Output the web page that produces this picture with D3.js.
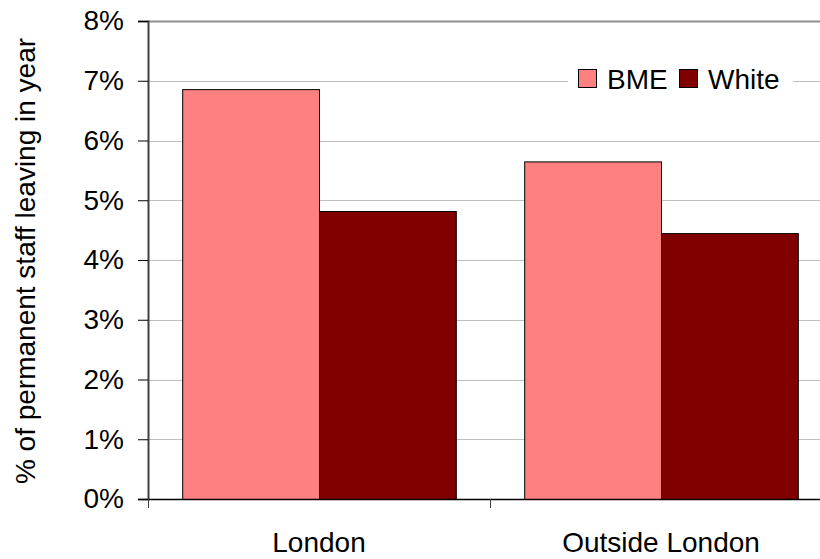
<!DOCTYPE html>
<html>
<head>
<meta charset="utf-8">
<script src="https://cdn.jsdelivr.net/npm/d3@7"></script>
<style>
  body { margin: 0; background: #fff; }
  text { font-family: "Liberation Sans", Arial, sans-serif; fill: #000; }
</style>
</head>
<body>
<div id="chart"></div>
<script>
var categories = ["London", "Outside London"]
var series = ["BME", "White"]
var bmeValues = [0.0686, 0.0565]
var whiteValues = [0.0482, 0.0445]
var yTicks = [0, 0.01, 0.02, 0.03, 0.04, 0.05, 0.06, 0.07, 0.08]
var colors = { "BME": "#ff8080", "White": "#800000" }

var width = 820, height = 559
var plot = { left: 148, top: 21, right: 832, bottom: 499 }
var fontSize = 28

var svg = d3.select("#chart").append("svg")
  .attr("width", width)
  .attr("height", height)

var x0 = d3.scaleBand()
  .domain(categories)
  .range([plot.left, plot.right])
  .paddingInner(0)
  .paddingOuter(0)

var x1 = d3.scaleBand()
  .domain(series)
  .range([0, x0.bandwidth()])
  .paddingInner(0)
  .paddingOuter(0.25)

var y = d3.scaleLinear()
  .domain([0, 0.08])
  .range([plot.bottom, plot.top])

// gridlines
svg.append("g")
  .attr("class", "grid")
  .selectAll("line")
  .data(yTicks.slice(1, -1))
  .enter().append("line")
    .attr("x1", plot.left)
    .attr("x2", plot.right)
    .attr("y1", function (d) { return Math.round(y(d)) + 0.5 })
    .attr("y2", function (d) { return Math.round(y(d)) + 0.5 })
    .attr("stroke", "#c0c0c0")
    .attr("stroke-width", 1)

// plot area border (only the top edge is inside the picture)
svg.append("line")
  .attr("x1", plot.left)
  .attr("x2", plot.right)
  .attr("y1", plot.top + 0.5)
  .attr("y2", plot.top + 0.5)
  .attr("stroke", "#909090")
  .attr("stroke-width", 2)

// bars
var rows = categories.map(function (c, i) {
  return { category: c, values: [
    { key: "BME", value: bmeValues[i] },
    { key: "White", value: whiteValues[i] }
  ] }
})

var groups = svg.append("g")
  .attr("class", "bars")
  .selectAll("g")
  .data(rows)
  .enter().append("g")
    .attr("transform", function (d) { return "translate(" + x0(d.category) + ",0)" })

groups.selectAll("rect")
  .data(function (d) { return d.values })
  .enter().append("rect")
    .attr("x", function (d) { return x1(d.key) + 0.5 })
    .attr("y", function (d) { return y(d.value) + 0.5 })
    .attr("width", x1.bandwidth())
    .attr("height", function (d) { return plot.bottom - y(d.value) })
    .attr("fill", function (d) { return colors[d.key] })
    .attr("stroke", "#000")
    .attr("stroke-width", 1)

// y axis
var yAxis = svg.append("g")
  .attr("transform", "translate(" + plot.left + ",0)")
  .call(d3.axisLeft(y).tickValues(yTicks).tickFormat(d3.format(".0%")).tickSize(10).tickPadding(14))

yAxis.select(".domain").attr("stroke", "#404040").attr("stroke-width", 2)
yAxis.selectAll(".tick line").attr("stroke", "#000")
yAxis.selectAll(".tick text")
  .style("font-size", fontSize + "px")
  .style("font-family", "'Liberation Sans', Arial, sans-serif")

// x axis
var xAxis = svg.append("g")
  .attr("transform", "translate(0," + plot.bottom + ")")

xAxis.append("line")
  .attr("x1", plot.left)
  .attr("x2", plot.right)
  .attr("y1", 0.5)
  .attr("y2", 0.5)
  .attr("stroke", "#000")
  .attr("stroke-width", 1.5)

var xTickPos = categories.map(function (c) { return x0(c) }).concat([plot.right])
xAxis.selectAll("line.tick")
  .data(xTickPos)
  .enter().append("line")
    .attr("class", "tick")
    .attr("x1", function (d) { return d + 0.5 })
    .attr("x2", function (d) { return d + 0.5 })
    .attr("y1", 0)
    .attr("y2", 9)
    .attr("stroke", "#404040")

xAxis.selectAll("text")
  .data(categories)
  .enter().append("text")
    .attr("x", function (d) { return x0(d) + x0.bandwidth() / 2 })
    .attr("y", 53)
    .attr("text-anchor", "middle")
    .style("font-size", fontSize + "px")
    .text(function (d) { return d })

// y title
svg.append("text")
  .attr("transform", "translate(35,261) rotate(-90)")
  .attr("text-anchor", "middle")
  .style("font-size", fontSize + "px")
  .text("% of permanent staff leaving in year")

// legend
var legend = svg.append("g").attr("transform", "translate(568,62)")
legend.append("rect")
  .attr("width", 225)
  .attr("height", 36)
  .attr("fill", "#fff")

var legendX = [10, 111]
var items = legend.selectAll("g.item")
  .data(series)
  .enter().append("g")
    .attr("class", "item")
    .attr("transform", function (d, i) { return "translate(" + legendX[i] + ",0)" })

items.append("rect")
  .attr("x", 0.5)
  .attr("y", 7.5)
  .attr("width", 18)
  .attr("height", 18)
  .attr("fill", function (d) { return colors[d] })
  .attr("stroke", "#000")

items.append("text")
  .attr("x", 29)
  .attr("y", 27)
  .style("font-size", fontSize + "px")
  .text(function (d) { return d })
</script>
</body>
</html>
